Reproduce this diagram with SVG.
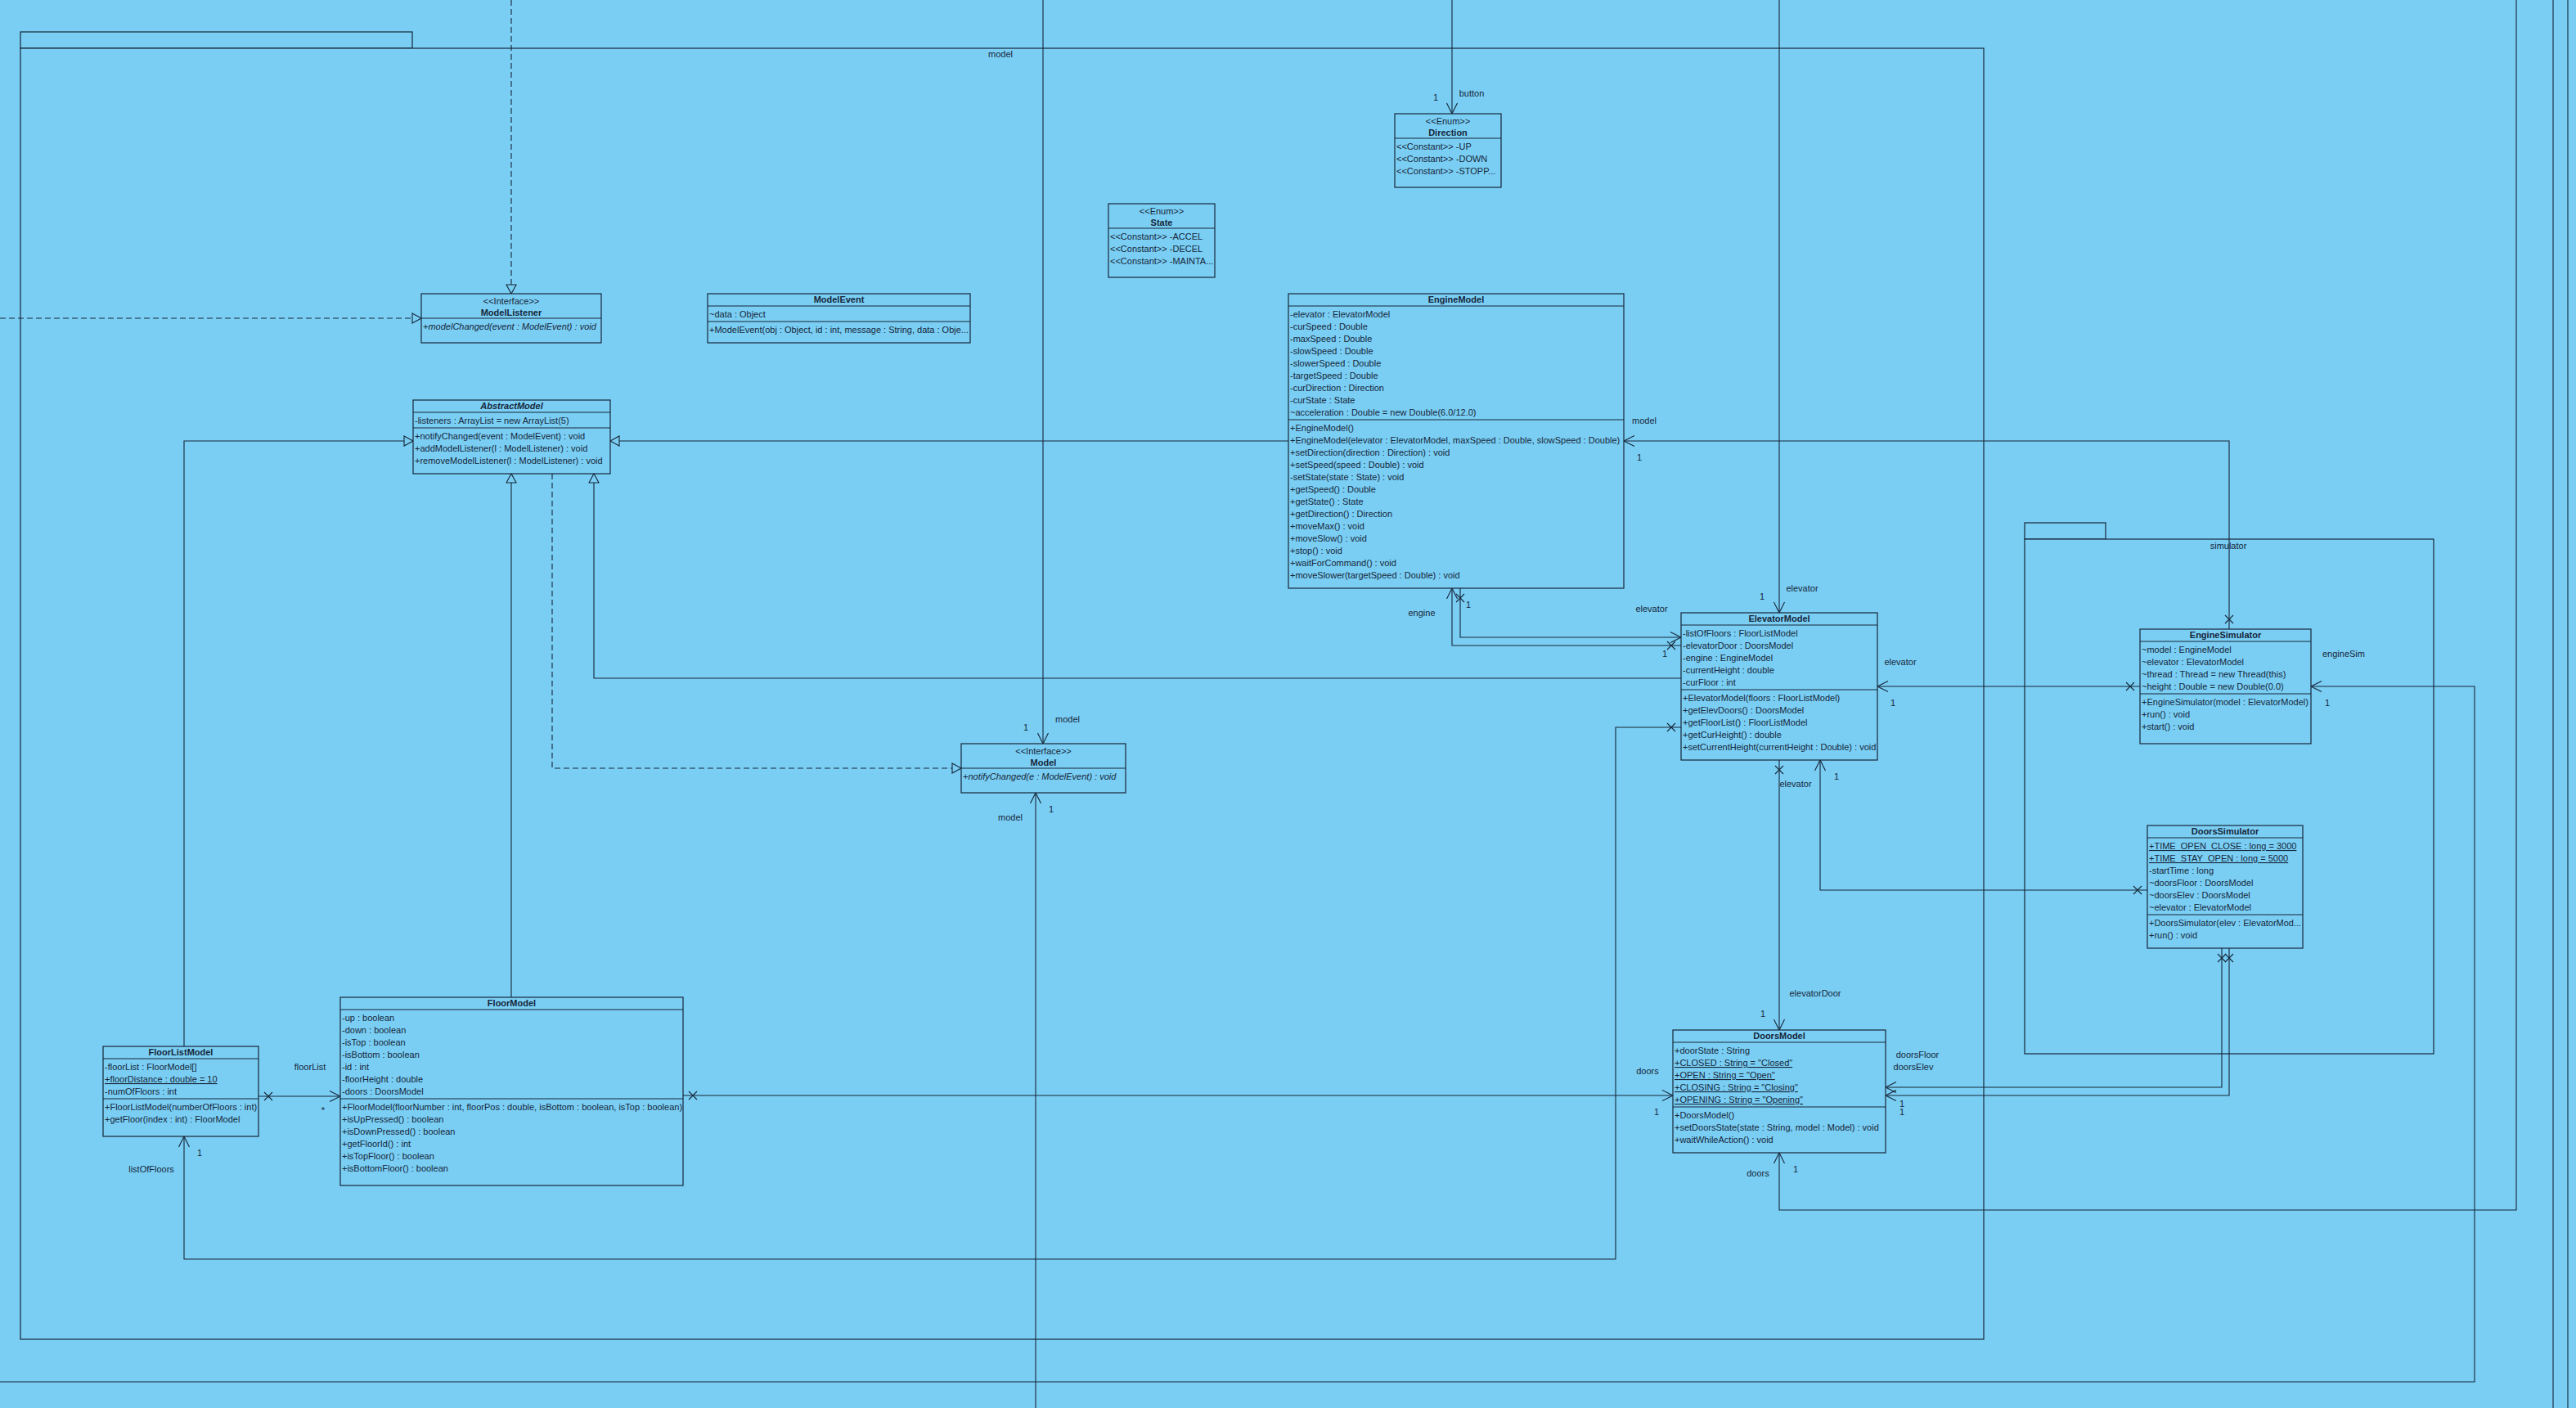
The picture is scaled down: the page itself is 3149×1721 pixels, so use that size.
<svg xmlns="http://www.w3.org/2000/svg" width="3149" height="1721" viewBox="0 0 3149 1721">
<style>
.bg{fill:#7acef3}
.box{fill:#7acef3;stroke:#16263a;stroke-width:1.2}
.ln{fill:none;stroke:#16263a;stroke-width:1.2}
.cn{fill:none;stroke:#16263a;stroke-width:1.1}
.dash{stroke-dasharray:7,4}
text{font-family:"Liberation Sans",Arial,sans-serif;font-size:11px;fill:#16263a}
.b{font-weight:bold}
.i{font-style:italic}
.u{text-decoration:underline}
.c{text-anchor:middle}
</style>
<defs>
<marker id="arr" markerUnits="userSpaceOnUse" viewBox="-20 -15 40 30" markerWidth="40" markerHeight="30" refX="0" refY="0" orient="auto" overflow="visible"><path d="M-13,-6.5 L0,0 L-13,6.5" fill="none" stroke="#16263a" stroke-width="1.1" stroke-dasharray="none"/></marker>
<marker id="tri" markerUnits="userSpaceOnUse" viewBox="-20 -15 40 30" markerWidth="40" markerHeight="30" refX="0" refY="0" orient="auto" overflow="visible"><path d="M-11,-6 L0,0 L-11,6 Z" fill="#7acef3" stroke="#16263a" stroke-width="1.1" stroke-dasharray="none"/></marker>
<marker id="xm" markerUnits="userSpaceOnUse" viewBox="-20 -15 40 30" markerWidth="40" markerHeight="30" refX="0" refY="0" orient="auto" overflow="visible"><path d="M7,-5 L17,5 M7,5 L17,-5" fill="none" stroke="#16263a" stroke-width="1.1" stroke-dasharray="none"/></marker>
</defs>
<rect class="bg" x="0" y="0" width="3149" height="1721"/>

<g id="pkg-model">
<rect class="box" x="25" y="39" width="479" height="20"/>
<rect class="box" x="25" y="59" width="2400" height="1578"/>
<text class="c" x="1223" y="70">model</text>
</g>
<g id="pkg-simulator">
<rect class="box" x="2475" y="639" width="99" height="20"/>
<rect class="box" x="2475" y="659" width="500" height="629"/>
<text class="c" x="2724" y="671">simulator</text>
</g>

<g id="connectors">
<path class="cn dash" d="M625,0 V359" marker-end="url(#tri)"/>
<path class="cn dash" d="M0,389 H515" marker-end="url(#tri)"/>
<path class="cn" d="M625,1219 V579" marker-end="url(#tri)"/>
<path class="cn" d="M2055,829 H726 V579" marker-end="url(#tri)"/>
<path class="cn" d="M1575,539 H746" marker-end="url(#tri)"/>
<path class="cn" d="M225,1279 V539 H505" marker-end="url(#tri)"/>
<path class="cn dash" d="M675,579 V939 H1175" marker-end="url(#tri)"/>
<path class="cn" d="M1275,0 V909" marker-end="url(#arr)"/>
<path class="cn" d="M1266,1721 V969" marker-end="url(#arr)"/>
<path class="cn" d="M1775,0 V139" marker-end="url(#arr)"/>
<path class="cn" d="M2175,0 V749" marker-end="url(#arr)"/>
<path class="cn" d="M2725,769 V539 H1985" marker-start="url(#xm)" marker-end="url(#arr)"/>
<path class="cn" d="M2616,839 H2295" marker-start="url(#xm)" marker-end="url(#arr)"/>
<path class="cn" d="M0,1689 H3025 V839 H2825" marker-end="url(#arr)"/>
<path class="cn" d="M1785,719 V779 H2055" marker-start="url(#xm)" marker-end="url(#arr)"/>
<path class="cn" d="M2055,789 H1775 V719" marker-start="url(#xm)" marker-end="url(#arr)"/>
<path class="cn" d="M2055,889 H1975 V1539 H225 V1389" marker-start="url(#xm)" marker-end="url(#arr)"/>
<path class="cn" d="M316,1340 H416" marker-start="url(#xm)" marker-end="url(#arr)"/>
<path class="cn" d="M835,1339 H2045" marker-start="url(#xm)" marker-end="url(#arr)"/>
<path class="cn" d="M2175,929 V1259" marker-start="url(#xm)" marker-end="url(#arr)"/>
<path class="cn" d="M2625,1088 H2225 V929" marker-start="url(#xm)" marker-end="url(#arr)"/>
<path class="cn" d="M2716,1159 V1329 H2305" marker-start="url(#xm)" marker-end="url(#arr)"/>
<path class="cn" d="M2725,1159 V1339 H2305" marker-start="url(#xm)" marker-end="url(#arr)"/>
<path class="cn" d="M3076,0 V1479 H2175 V1409" marker-end="url(#arr)"/>
<path class="cn" d="M3121,0 V1721"/>
<path class="cn" d="M3139,0 V1721"/>
<text class="c" x="1254" y="893">1</text><text class="c" x="1305" y="883">model</text>
<text class="c" x="1285" y="993">1</text><text class="c" x="1235" y="1003">model</text>
<text class="c" x="1755" y="123">1</text><text class="c" x="1799" y="118">button</text>
<text class="c" x="2154" y="733">1</text><text class="c" x="2203" y="723">elevator</text>
<text class="c" x="2010" y="518">model</text><text class="c" x="2004" y="563">1</text>
<text class="c" x="2323" y="813">elevator</text><text class="c" x="2314" y="863">1</text>
<text class="c" x="2865" y="803">engineSim</text><text class="c" x="2845" y="863">1</text>
<text class="c" x="1795" y="743">1</text><text class="c" x="2019" y="748">elevator</text>
<text class="c" x="1738" y="753">engine</text><text class="c" x="2035" y="803">1</text>
<text class="c" x="244" y="1413">1</text><text class="c" x="185" y="1433">listOfFloors</text>
<text class="c" x="379" y="1308">floorList</text><text class="c" x="395" y="1361">*</text>
<text class="c" x="2014" y="1313">doors</text><text class="c" x="2025" y="1363">1</text>
<text class="c" x="2195" y="962">elevator</text><text class="c" x="2219" y="1218">elevatorDoor</text><text class="c" x="2155" y="1243">1</text>
<text class="c" x="2245" y="953">1</text>
<text class="c" x="2344" y="1293">doorsFloor</text><text class="c" x="2325" y="1353">1</text>
<text class="c" x="2339" y="1308">doorsElev</text><text class="c" x="2325" y="1363">1</text>
<text class="c" x="2149" y="1438">doors</text><text class="c" x="2195" y="1433">1</text>
</g>

<g id="ModelListener">
<rect class="box" x="515" y="359" width="220" height="60"/>
<path class="ln" d="M515,389 H735"/>
<text class="c" x="625" y="371.5">&lt;&lt;Interface&gt;&gt;</text>
<text class="c b" x="625" y="386">ModelListener</text>
<text class="i" x="517" y="403">+modelChanged(event : ModelEvent) : void</text>
</g>

<g id="ModelEvent">
<rect class="box" x="865" y="359" width="321" height="60"/>
<path class="ln" d="M865,374 H1186 M865,393 H1186"/>
<text class="c b" x="1025.5" y="370">ModelEvent</text>
<text x="867" y="388">~data : Object</text>
<text x="867" y="407">+ModelEvent(obj : Object, id : int, message : String, data : Obje...</text>
</g>

<g id="AbstractModel">
<rect class="box" x="505" y="489" width="241" height="90"/>
<path class="ln" d="M505,504 H746 M505,523 H746"/>
<text class="c b i" x="625.5" y="500">AbstractModel</text>
<text x="507" y="518">-listeners : ArrayList = new ArrayList(5)</text>
<text x="507" y="537">+notifyChanged(event : ModelEvent) : void</text>
<text x="507" y="552">+addModelListener(l : ModelListener) : void</text>
<text x="507" y="567">+removeModelListener(l : ModelListener) : void</text>
</g>

<g id="State">
<rect class="box" x="1355" y="249" width="130" height="90"/>
<path class="ln" d="M1355,279 H1485"/>
<text class="c" x="1420" y="261.5">&lt;&lt;Enum&gt;&gt;</text>
<text class="c b" x="1420" y="276">State</text>
<text x="1357" y="293">&lt;&lt;Constant&gt;&gt; -ACCEL</text>
<text x="1357" y="308">&lt;&lt;Constant&gt;&gt; -DECEL</text>
<text x="1357" y="323">&lt;&lt;Constant&gt;&gt; -MAINTA...</text>
</g>

<g id="Direction">
<rect class="box" x="1705" y="139" width="130" height="90"/>
<path class="ln" d="M1705,169 H1835"/>
<text class="c" x="1770" y="151.5">&lt;&lt;Enum&gt;&gt;</text>
<text class="c b" x="1770" y="166">Direction</text>
<text x="1707" y="183">&lt;&lt;Constant&gt;&gt; -UP</text>
<text x="1707" y="198">&lt;&lt;Constant&gt;&gt; -DOWN</text>
<text x="1707" y="213">&lt;&lt;Constant&gt;&gt; -STOPP...</text>
</g>

<g id="EngineModel">
<rect class="box" x="1575" y="359" width="410" height="360"/>
<path class="ln" d="M1575,374 H1985 M1575,513 H1985"/>
<text class="c b" x="1780" y="370">EngineModel</text>
<text x="1577" y="388">-elevator : ElevatorModel</text>
<text x="1577" y="403">-curSpeed : Double</text>
<text x="1577" y="418">-maxSpeed : Double</text>
<text x="1577" y="433">-slowSpeed : Double</text>
<text x="1577" y="448">-slowerSpeed : Double</text>
<text x="1577" y="463">-targetSpeed : Double</text>
<text x="1577" y="478">-curDirection : Direction</text>
<text x="1577" y="493">-curState : State</text>
<text x="1577" y="508">~acceleration : Double = new Double(6.0/12.0)</text>
<text x="1577" y="527">+EngineModel()</text>
<text x="1577" y="542">+EngineModel(elevator : ElevatorModel, maxSpeed : Double, slowSpeed : Double)</text>
<text x="1577" y="557">+setDirection(direction : Direction) : void</text>
<text x="1577" y="572">+setSpeed(speed : Double) : void</text>
<text x="1577" y="587">-setState(state : State) : void</text>
<text x="1577" y="602">+getSpeed() : Double</text>
<text x="1577" y="617">+getState() : State</text>
<text x="1577" y="632">+getDirection() : Direction</text>
<text x="1577" y="647">+moveMax() : void</text>
<text x="1577" y="662">+moveSlow() : void</text>
<text x="1577" y="677">+stop() : void</text>
<text x="1577" y="692">+waitForCommand() : void</text>
<text x="1577" y="707">+moveSlower(targetSpeed : Double) : void</text>
</g>

<g id="ElevatorModel">
<rect class="box" x="2055" y="749" width="240" height="180"/>
<path class="ln" d="M2055,764 H2295 M2055,843 H2295"/>
<text class="c b" x="2175" y="760">ElevatorModel</text>
<text x="2057" y="778">-listOfFloors : FloorListModel</text>
<text x="2057" y="793">-elevatorDoor : DoorsModel</text>
<text x="2057" y="808">-engine : EngineModel</text>
<text x="2057" y="823">-currentHeight : double</text>
<text x="2057" y="838">-curFloor : int</text>
<text x="2057" y="857">+ElevatorModel(floors : FloorListModel)</text>
<text x="2057" y="872">+getElevDoors() : DoorsModel</text>
<text x="2057" y="887">+getFloorList() : FloorListModel</text>
<text x="2057" y="902">+getCurHeight() : double</text>
<text x="2057" y="917">+setCurrentHeight(currentHeight : Double) : void</text>
</g>

<g id="EngineSimulator">
<rect class="box" x="2616" y="769" width="209" height="140"/>
<path class="ln" d="M2616,784 H2825 M2616,848 H2825"/>
<text class="c b" x="2720.5" y="780">EngineSimulator</text>
<text x="2618" y="798">~model : EngineModel</text>
<text x="2618" y="813">~elevator : ElevatorModel</text>
<text x="2618" y="828">~thread : Thread = new Thread(this)</text>
<text x="2618" y="843">~height : Double = new Double(0.0)</text>
<text x="2618" y="862">+EngineSimulator(model : ElevatorModel)</text>
<text x="2618" y="877">+run() : void</text>
<text x="2618" y="892">+start() : void</text>
</g>

<g id="DoorsSimulator">
<rect class="box" x="2625" y="1009" width="190" height="150"/>
<path class="ln" d="M2625,1024 H2815 M2625,1118 H2815"/>
<text class="c b" x="2720" y="1020">DoorsSimulator</text>
<text class="u" x="2627" y="1038">+TIME_OPEN_CLOSE : long = 3000</text>
<text class="u" x="2627" y="1053">+TIME_STAY_OPEN : long = 5000</text>
<text x="2627" y="1068">-startTime : long</text>
<text x="2627" y="1083">~doorsFloor : DoorsModel</text>
<text x="2627" y="1098">~doorsElev : DoorsModel</text>
<text x="2627" y="1113">~elevator : ElevatorModel</text>
<text x="2627" y="1132">+DoorsSimulator(elev : ElevatorMod...</text>
<text x="2627" y="1147">+run() : void</text>
</g>

<g id="Model">
<rect class="box" x="1175" y="909" width="201" height="60"/>
<path class="ln" d="M1175,939 H1376"/>
<text class="c" x="1275.5" y="921.5">&lt;&lt;Interface&gt;&gt;</text>
<text class="c b" x="1275.5" y="936">Model</text>
<text class="i" x="1177" y="953">+notifyChanged(e : ModelEvent) : void</text>
</g>

<g id="FloorListModel">
<rect class="box" x="126" y="1279" width="190" height="110"/>
<path class="ln" d="M126,1294 H316 M126,1343 H316"/>
<text class="c b" x="221" y="1290">FloorListModel</text>
<text x="128" y="1308">-floorList : FloorModel[]</text>
<text class="u" x="128" y="1323">+floorDistance : double = 10</text>
<text x="128" y="1338">-numOfFloors : int</text>
<text x="128" y="1357">+FloorListModel(numberOfFloors : int)</text>
<text x="128" y="1372">+getFloor(index : int) : FloorModel</text>
</g>

<g id="FloorModel">
<rect class="box" x="416" y="1219" width="419" height="230"/>
<path class="ln" d="M416,1234 H835 M416,1343 H835"/>
<text class="c b" x="625.5" y="1230">FloorModel</text>
<text x="418" y="1248">-up : boolean</text>
<text x="418" y="1263">-down : boolean</text>
<text x="418" y="1278">-isTop : boolean</text>
<text x="418" y="1293">-isBottom : boolean</text>
<text x="418" y="1308">-id : int</text>
<text x="418" y="1323">-floorHeight : double</text>
<text x="418" y="1338">-doors : DoorsModel</text>
<text x="418" y="1357">+FloorModel(floorNumber : int, floorPos : double, isBottom : boolean, isTop : boolean)</text>
<text x="418" y="1372">+isUpPressed() : boolean</text>
<text x="418" y="1387">+isDownPressed() : boolean</text>
<text x="418" y="1402">+getFloorId() : int</text>
<text x="418" y="1417">+isTopFloor() : boolean</text>
<text x="418" y="1432">+isBottomFloor() : boolean</text>
</g>

<g id="DoorsModel">
<rect class="box" x="2045" y="1259" width="260" height="150"/>
<path class="ln" d="M2045,1274 H2305 M2045,1353 H2305"/>
<text class="c b" x="2175" y="1270">DoorsModel</text>
<text x="2047" y="1288">+doorState : String</text>
<text class="u" x="2047" y="1303">+CLOSED : String = "Closed"</text>
<text class="u" x="2047" y="1318">+OPEN : String = "Open"</text>
<text class="u" x="2047" y="1333">+CLOSING : String = "Closing"</text>
<text class="u" x="2047" y="1348">+OPENING : String = "Opening"</text>
<text x="2047" y="1367">+DoorsModel()</text>
<text x="2047" y="1382">+setDoorsState(state : String, model : Model) : void</text>
<text x="2047" y="1397">+waitWhileAction() : void</text>
</g>
</svg>
